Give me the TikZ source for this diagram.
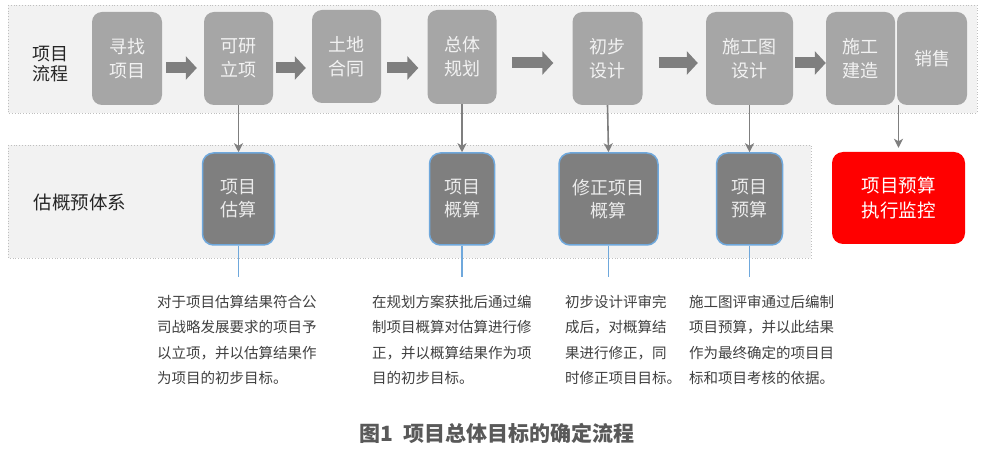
\documentclass[tikz,border=0pt]{standalone}
\usepackage{fontspec}
\setmainfont{Noto Sans CJK SC}
\usetikzlibrary{arrows.meta}
\definecolor{bandfill}{HTML}{F2F2F2}
\definecolor{banddot}{HTML}{BFBFBF}
\definecolor{topgray}{HTML}{A6A6A6}
\definecolor{darkbox}{HTML}{7F7F7F}
\definecolor{arrowgray}{HTML}{7F7F7F}
\definecolor{blueedge}{HTML}{6FA8DC}
\definecolor{redbox}{HTML}{FF0000}
\definecolor{bodytext}{HTML}{404040}
\definecolor{labeltext}{HTML}{262626}
\definecolor{captext}{HTML}{595959}
\begin{document}
\begin{tikzpicture}[x=1pt,y=-1pt,
  band/.style={fill=bandfill,draw=banddot,dotted,line width=0.8pt},
  topbox/.style={rounded corners=10pt,fill=topgray,text=white!95!black,inner sep=0pt,align=center,font=\fontsize{18}{24}\selectfont},
  lowbox/.style={rounded corners=11pt,fill=darkbox,draw=blueedge,line width=1.5pt,text=white!92!black,inner sep=0pt,align=center,font=\fontsize{18}{23}\selectfont},
  redstyle/.style={rounded corners=11pt,fill=redbox,text=white,inner sep=0pt,align=center,font=\fontsize{18.5}{25}\selectfont},
  blk/.style={draw=arrowgray,line width=11pt,-{Triangle[width=23pt,length=11pt]}},
  thinarrow/.style={draw=arrowgray,line width=1.6pt,-{Stealth[length=9pt,width=9pt,inset=2.5pt]}},
  blueline/.style={draw=blueedge,line width=1.8pt},
  sidelabel/.style={text=labeltext,align=center,inner sep=0pt},
  note/.style={text=bodytext,align=left,inner sep=0pt,anchor=north west,font=\fontsize{14.5}{25.3}\selectfont}
]
\useasboundingbox (0,0) rectangle (987,454);
\fill[white] (0,0) rectangle (987,454);

% bands
\draw[band] (8,5) rectangle (977,113);
\draw[band] (8,145) rectangle (811,258);

% side labels
\node[sidelabel,font=\fontsize{18}{20}\selectfont] (lab1) at (50,64) {项目\\流程};
\node[sidelabel,font=\fontsize{18.5}{22}\selectfont] (lab2) at (80,202) {估概预体系};

% top row
\node[topbox,minimum width=70pt,minimum height=93pt] (xz) at (127,58.5) {寻找\\项目};
\node[topbox,minimum width=69pt,minimum height=93pt] (ky) at (238.5,58.5) {可研\\立项};
\node[topbox,minimum width=69pt,minimum height=93pt] (td) at (346.5,56.5) {土地\\合同};
\node[topbox,minimum width=69pt,minimum height=94pt] (zt) at (462,57) {总体\\规划};
\node[topbox,minimum width=70pt,minimum height=93pt] (cb) at (607.5,58.5) {初步\\设计};
\node[topbox,minimum width=87pt,minimum height=93pt] (sg) at (749.5,58.5) {施工图\\设计};
\node[topbox,minimum width=69pt,minimum height=93pt] (jz) at (860.5,58.5) {施工\\建造};
\node[topbox,minimum width=70pt,minimum height=93pt] (xs) at (932,58.5) {销售};

% block arrows
\coordinate (rowa) at (0,68);
\coordinate (rowb) at (0,63);
\draw[blk,shorten <=4pt,shorten >=7pt] (xz.east |- rowa) -- (ky.west |- rowa);
\draw[blk,shorten <=3pt,shorten >=6pt] (ky.east |- rowa) -- (td.west |- rowa);
\draw[blk,shorten <=6pt,shorten >=9pt] (td.east |- rowa) -- (zt.west |- rowa);
\draw[blk,shorten <=15.5pt,shorten >=19pt] (zt.east |- rowb) -- (cb.west |- rowb);
\draw[blk,shorten <=16pt,shorten >=8pt] (cb.east |- rowb) -- (sg.west |- rowb);
\draw[blk,shorten <=2pt,shorten >=0pt] (sg.east |- rowb) -- (jz.west |- rowb);

% lower row
\node[lowbox,minimum width=72pt,minimum height=92pt] (gs) at (238.5,199) {项目\\估算};
\node[lowbox,minimum width=65pt,minimum height=92pt] (gais) at (462,199) {项目\\概算};
\node[lowbox,minimum width=99pt,minimum height=92pt] (xzgs) at (608.5,199) {修正项目\\概算};
\node[lowbox,minimum width=66pt,minimum height=92pt] (ys) at (749.5,199) {项目\\预算};
\node[redstyle,minimum width=133pt,minimum height=92pt] (jk) at (898.5,198) {项目预算\\执行监控};

% vertical arrows
\draw[thinarrow] (ky.south) -- (gs.north);
\draw[thinarrow] (zt.south) -- (gais.north);
\draw[thinarrow] (cb.south) -- (xzgs.north);
\draw[thinarrow] (sg.south) -- (ys.north);
\draw[thinarrow,shorten >=4pt] (jk.north |- xs.south) -- (jk.north);

% blue leader lines
\coordinate (e1) at (238.5,277);
\coordinate (e2) at (462,277);
\coordinate (e3) at (608.5,277);
\coordinate (e4) at (749.5,277);
\draw[blueline] (gs.south) -- (e1);
\draw[blueline] (gais.south) -- (e2);
\draw[blueline] (xzgs.south) -- (e3);
\draw[blueline] (ys.south) -- (e4);

% notes
\node[note] (n1) at (157,295) {对于项目估算结果符合公\\司战略发展要求的项目予\\以立项，并以估算结果作\\为项目的初步目标。};
\node[note] (n2) at (372,295) {在规划方案获批后通过编\\制项目概算对估算进行修\\正，并以概算结果作为项\\目的初步目标。};
\node[note] (n3) at (565,295) {初步设计评审完\\成后，对概算结\\果进行修正，同\\时修正项目目标。};
\node[note] (n4) at (689,295) {施工图评审通过后编制\\项目预算，并以此结果\\作为最终确定的项目目\\标和项目考核的依据。};

% caption
\node[text=captext,inner sep=0pt,font=\fontsize{21}{24}\selectfont\bfseries] (cap) at (497,433) {图1\ \ 项目总体目标的确定流程};
\end{tikzpicture}
\end{document}
